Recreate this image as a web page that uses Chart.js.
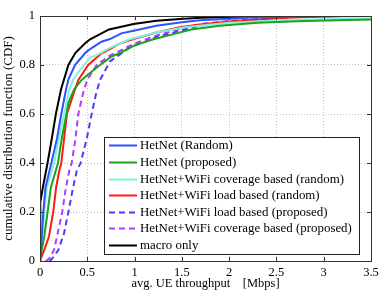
<!DOCTYPE html>
<html>
<head>
<meta charset="utf-8">
<script src="https://cdn.jsdelivr.net/npm/chart.js@4.4.0/dist/chart.umd.min.js"></script>
<style>
    html, body { margin: 0; padding: 0; background: #fff; }
    #wrap { width: 390px; height: 294px; position: relative; }
</style>
</head>
<body>
<div id="wrap"><canvas id="cdfChart"></canvas></div>
<script>
// CDF curves: [avg. UE throughput (Mbps), cumulative probability]
const hetnetRandom = [[0, 0], [0.018, 0.1], [0.035, 0.2], [0.058, 0.3], [0.12, 0.4], [0.18, 0.5], [0.225, 0.6], [0.275, 0.7], [0.3, 0.74], [0.37, 0.8], [0.48, 0.85], [0.53, 0.865], [0.65, 0.895], [0.74, 0.906], [0.86, 0.929], [0.99, 0.94], [1.23, 0.96], [1.48, 0.973], [1.69, 0.983], [2.2, 0.993], [2.8, 0.998], [3.5, 1]];
const hetnetProposed = [[0, 0], [0.018, 0.045], [0.045, 0.1], [0.08, 0.2], [0.115, 0.3], [0.19, 0.4], [0.23, 0.5], [0.28, 0.6], [0.3, 0.645], [0.36, 0.7], [0.44, 0.739], [0.6, 0.79], [0.75, 0.833], [0.85, 0.85], [1.0, 0.88], [1.2, 0.905], [1.4, 0.925], [1.6, 0.945], [1.9, 0.96], [2.3, 0.972], [2.8, 0.98], [3.5, 0.986]];
const coverageRandom = [[0, 0], [0.005, 0.05], [0.025, 0.1], [0.046, 0.2], [0.072, 0.3], [0.15, 0.4], [0.2, 0.5], [0.255, 0.6], [0.31, 0.7], [0.35, 0.74], [0.405, 0.77], [0.53, 0.83], [0.6, 0.84], [0.74, 0.87], [0.95, 0.905], [1.25, 0.935], [1.55, 0.955], [2.0, 0.972], [2.6, 0.984], [3.5, 0.99]];
const loadRandom = [[0, 0], [0.045, 0.045], [0.095, 0.1], [0.14, 0.2], [0.17, 0.3], [0.205, 0.37], [0.225, 0.4], [0.255, 0.5], [0.285, 0.6], [0.35, 0.678], [0.37, 0.7], [0.405, 0.739], [0.51, 0.8], [0.65, 0.848], [0.74, 0.865], [0.83, 0.885], [0.99, 0.906], [1.23, 0.933], [1.48, 0.954], [1.69, 0.965], [2.0, 0.978], [2.6, 0.993], [3.2, 1], [3.5, 1]];
const loadProposed = [[0.1, 0], [0.124, 0.007], [0.194, 0.045], [0.254, 0.113], [0.3, 0.2], [0.345, 0.29], [0.39, 0.37], [0.43, 0.4], [0.495, 0.5], [0.546, 0.6], [0.59, 0.678], [0.634, 0.739], [0.72, 0.8], [0.74, 0.815], [0.95, 0.872], [1.23, 0.913], [1.48, 0.94], [1.69, 0.96], [2.1, 0.98], [2.6, 0.995], [3.0, 1], [3.5, 1]];
const coverageProposed = [[0.06, 0], [0.1, 0.01], [0.148, 0.045], [0.18, 0.1], [0.235, 0.2], [0.27, 0.29], [0.31, 0.37], [0.335, 0.4], [0.375, 0.5], [0.405, 0.6], [0.451, 0.678], [0.5, 0.74], [0.6, 0.8], [0.74, 0.838], [0.99, 0.886], [1.23, 0.92], [1.48, 0.947], [1.69, 0.967], [2.0, 0.98], [2.6, 0.995], [3.0, 1], [3.5, 1]];
const macroOnly = [[0, 0], [0.003, 0.24], [0.03, 0.3], [0.08, 0.4], [0.125, 0.5], [0.168, 0.6], [0.222, 0.7], [0.3, 0.8], [0.375, 0.85], [0.48, 0.89], [0.53, 0.905], [0.73, 0.945], [0.99, 0.967], [1.23, 0.981], [1.48, 0.988], [1.7, 0.993], [2.2, 0.998], [2.8, 1], [3.5, 1]];

const seriesLabels = [
    'HetNet (Random)',
    'HetNet (proposed)',
    'HetNet+WiFi coverage based (random)',
    'HetNet+WiFi load based (random)',
    'HetNet+WiFi load based (proposed)',
    'HetNet+WiFi coverage based (proposed)',
    'macro only'
];
const seriesData = [hetnetRandom, hetnetProposed, coverageRandom, loadRandom, loadProposed, coverageProposed, macroOnly];
const seriesColors = ['#2f52ff', '#1ba31b', '#7df2dc', '#ff1a1a', '#4a3cff', '#b23cff', '#000000'];
const seriesDashed = [false, false, false, false, true, true, false];

const serif = '"Liberation Serif", "Times New Roman", serif';
const tickLabel = v => String(+v.toFixed(2));

// box, inward ticks and the legend drawn inside the plot like MATLAB does
const frameAndLegend = {
    id: 'frameAndLegend',
    afterDraw(chart) {
        const { ctx, chartArea: area, scales } = chart;
        ctx.save();

        ctx.strokeStyle = '#333';
        ctx.lineWidth = 1;
        ctx.beginPath();
        scales.x.ticks.forEach(t => {
            const px = Math.round(scales.x.getPixelForValue(t.value)) + 0.5;
            ctx.moveTo(px, area.bottom); ctx.lineTo(px, area.bottom - 4);
            ctx.moveTo(px, area.top); ctx.lineTo(px, area.top + 4);
        });
        scales.y.ticks.forEach(t => {
            const py = Math.round(scales.y.getPixelForValue(t.value)) + 0.5;
            ctx.moveTo(area.left, py); ctx.lineTo(area.left + 4, py);
            ctx.moveTo(area.right, py); ctx.lineTo(area.right - 4, py);
        });
        ctx.stroke();
        ctx.strokeRect(Math.round(area.left) + 0.5, Math.round(area.top) + 0.5,
            Math.round(area.width), Math.round(area.height));

        // legend
        const sets = chart.data.datasets;
        ctx.font = '12.9px ' + serif;
        const textW = Math.max(...sets.map(d => ctx.measureText(d.label).width));
        const rowH = 16.6, sample = 28;
        const w = Math.round(5 + sample + 3 + textW + 7);
        const h = Math.round(rowH * sets.length + 1);
        const right = Math.round(area.right - 12), bottom = Math.round(area.bottom - 7);
        const left = right - w, top = bottom - h;
        ctx.fillStyle = '#fff';
        ctx.fillRect(left, top, w, h);
        ctx.strokeStyle = '#222';
        ctx.strokeRect(left + 0.5, top + 0.5, w, h);
        sets.forEach((d, i) => {
            const y = Math.round(top + rowH * (i + 0.5)) + 0.5;
            ctx.beginPath();
            ctx.setLineDash(d.borderDash || []);
            ctx.strokeStyle = d.borderColor;
            ctx.lineWidth = d.borderWidth;
            ctx.moveTo(left + 5, y);
            ctx.lineTo(left + 5 + sample, y);
            ctx.stroke();
            ctx.setLineDash([]);
            ctx.fillStyle = '#000';
            ctx.textBaseline = 'middle';
            ctx.textAlign = 'left';
            ctx.fillText(d.label, left + 5 + sample + 3, y + 0.5);
        });
        ctx.restore();
    }
};

new Chart(document.getElementById('cdfChart'), {
    type: 'line',
    data: {
        datasets: seriesData.map((pts, i) => ({
            label: seriesLabels[i],
            data: pts.map(([x, y]) => ({ x, y })),
            borderColor: seriesColors[i],
            backgroundColor: seriesColors[i],
            borderWidth: 2,
            borderDash: seriesDashed[i] ? [6, 4] : [],
            pointRadius: 0,
            tension: 0,
            fill: false
        }))
    },
    options: {
        responsive: true,
        maintainAspectRatio: false,
        animation: false,
        layout: { padding: { top: 16, right: 19, left: 0, bottom: 0 } },
        plugins: {
            legend: { display: false },
            tooltip: { enabled: false }
        },
        scales: {
            x: {
                type: 'linear',
                min: 0,
                max: 3.5,
                afterFit: s => { s.height = 33; },
                ticks: { stepSize: 0.5, padding: 4, color: '#000', callback: tickLabel, font: { family: serif, size: 12.5 } },
                grid: { color: '#c4c4c4', drawTicks: false },
                border: { display: false, dash: [1, 2] },
                title: {
                    display: true,
                    text: 'avg. UE throughput    [Mbps]',
                    color: '#000',
                    font: { family: serif, size: 12.5 },
                    padding: { top: 0, bottom: 3 }
                }
            },
            y: {
                min: 0,
                max: 1,
                afterFit: s => { s.width = 40; },
                ticks: { stepSize: 0.2, padding: 5, color: '#000', callback: tickLabel, font: { family: serif, size: 12.5 } },
                grid: { color: '#c4c4c4', drawTicks: false },
                border: { display: false, dash: [1, 2] },
                title: {
                    display: true,
                    text: 'cumulative distribution function (CDF)',
                    color: '#000',
                    font: { family: serif, size: 13 },
                    padding: { top: 1, bottom: 0 }
                }
            }
        }
    },
    plugins: [frameAndLegend]
});
</script>
</body>
</html>
